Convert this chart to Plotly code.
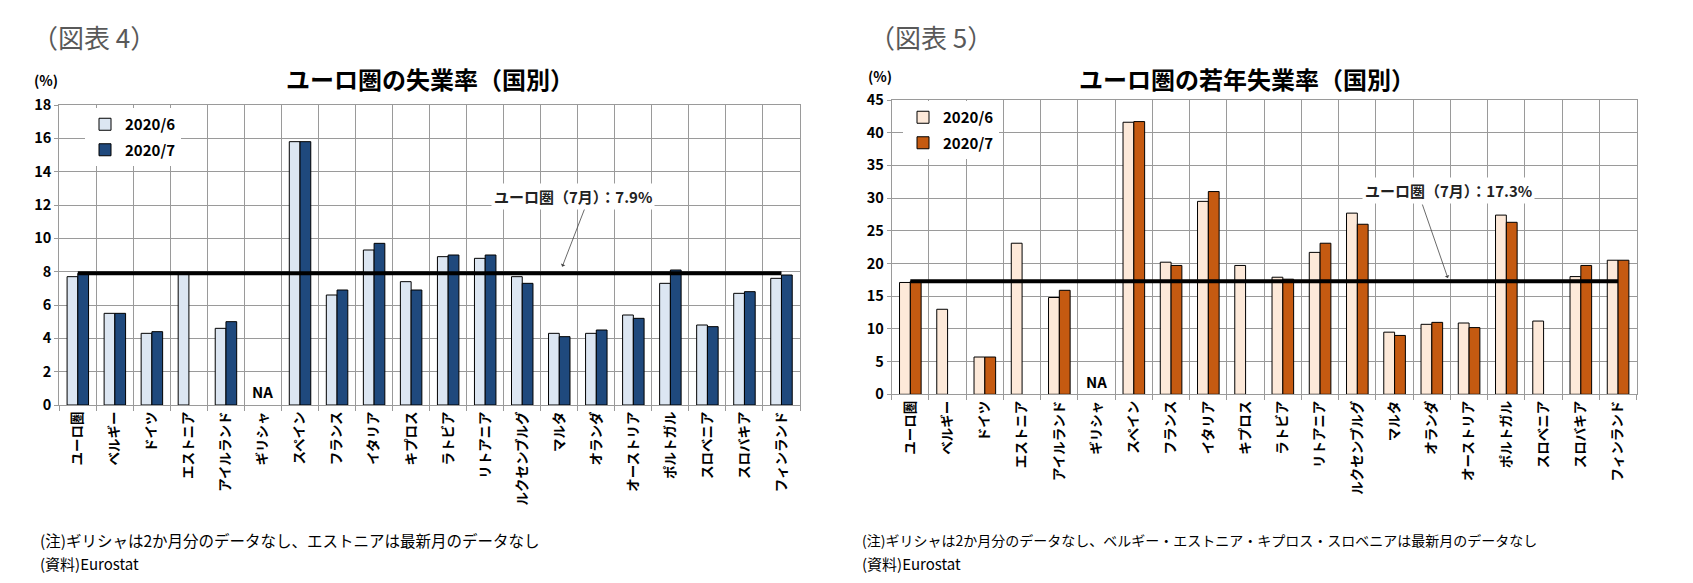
import plotly.graph_objects as go

# ---------------- data ----------------
countries = ["ユーロ圏", "ベルギー", "ドイツ", "エストニア", "アイルランド", "ギリシャ",
             "スペイン", "フランス", "イタリア", "キプロス", "ラトビア", "リトアニア",
             "ルクセンブルグ", "マルタ", "オランダ", "オーストリア", "ポルトガル",
             "スロベニア", "スロバキア", "フィンランド"]
series_names = ["2020/6", "2020/7"]

unemp_jun = [7.7, 5.5, 4.3, 7.9, 4.6, None, 15.8, 6.6, 9.3, 7.4, 8.9, 8.8, 7.7,
             4.3, 4.3, 5.4, 7.3, 4.8, 6.7, 7.6]
unemp_jul = [7.9, 5.5, 4.4, None, 5.0, None, 15.8, 6.9, 9.7, 6.9, 9.0, 9.0, 7.3,
             4.1, 4.5, 5.2, 8.1, 4.7, 6.8, 7.8]
euro_unemp_jul = 7.9

youth_jun = [17.1, 13.0, 5.7, 23.1, 14.8, None, 41.6, 20.2, 29.5, 19.7, 17.9, 21.7,
             27.7, 9.5, 10.7, 10.9, 27.4, 11.2, 18.0, 20.5]
youth_jul = [17.3, None, 5.7, None, 15.9, None, 41.7, 19.7, 31.0, None, 17.6, 23.1,
             26.0, 9.0, 11.0, 10.2, 26.3, None, 19.7, 20.5]
euro_youth_jul = 17.3

# ---------------- layout helpers ----------------
PAGE_W, PAGE_H = 1693, 583
OFF = 8                      # default page body margin
W, H = PAGE_W - 2 * OFF, PAGE_H - 2 * OFF
FONT = "Noto Sans CJK JP"


def px_x(v):
    return (v - OFF) / W


def px_y(v):
    return 1 - (v - OFF) / H


fig = go.Figure()

# Left chart bars
fig.add_trace(go.Bar(x=countries, y=unemp_jun, name=series_names[0],
                     marker=dict(color="#DCE6F2", line=dict(color="#000000", width=1)),
                     xaxis="x", yaxis="y", legend="legend", legendgroup="a1"))
fig.add_trace(go.Bar(x=countries, y=unemp_jul, name=series_names[1],
                     marker=dict(color="#1F497D", line=dict(color="#000000", width=1)),
                     xaxis="x", yaxis="y", legend="legend", legendgroup="a2"))
fig.add_trace(go.Scatter(x=[countries[0], countries[-1]], y=[euro_unemp_jul] * 2,
                         mode="lines", line=dict(color="#000000", width=4),
                         xaxis="x", yaxis="y", showlegend=False))

# Right chart bars
fig.add_trace(go.Bar(x=countries, y=youth_jun, name=series_names[0],
                     marker=dict(color="#FDE9D9", line=dict(color="#000000", width=1)),
                     xaxis="x2", yaxis="y2", legend="legend2", legendgroup="b1"))
fig.add_trace(go.Bar(x=countries, y=youth_jul, name=series_names[1],
                     marker=dict(color="#C55A11", line=dict(color="#000000", width=1)),
                     xaxis="x2", yaxis="y2", legend="legend2", legendgroup="b2"))
fig.add_trace(go.Scatter(x=[countries[0], countries[-1]], y=[euro_youth_jul] * 2,
                         mode="lines", line=dict(color="#000000", width=4),
                         xaxis="x2", yaxis="y2", showlegend=False))

GRID = "#9A9A9A"
xcommon = dict(type="category", tickson="boundaries", showgrid=True, gridcolor=GRID,
               gridwidth=1, ticks="outside", ticklen=5, tickcolor=GRID, tickangle=-90,
               tickfont=dict(family=FONT, size=13.5, color="#000000", weight="bold"),
               showline=True, linecolor=GRID, linewidth=1, mirror=True, fixedrange=True,
               automargin=False)
ycommon = dict(showgrid=True, gridcolor=GRID, gridwidth=1, ticks="outside", ticklen=4,
               tickcolor=GRID, showline=True, linecolor=GRID, linewidth=1, mirror=True,
               tickfont=dict(family=FONT, size=14.5, color="#000000", weight="bold"),
               zeroline=False, fixedrange=True, automargin=False)

fig.update_layout(
    width=W, height=H,
    margin=dict(l=0, r=0, t=0, b=0, autoexpand=False),
    paper_bgcolor="#FFFFFF", plot_bgcolor="#FFFFFF",
    barmode="group", bargap=0.42, bargroupgap=0,
    font=dict(family=FONT, color="#000000"),
    xaxis=dict(domain=[px_x(59.3), px_x(800)], anchor="y", **xcommon),
    yaxis=dict(domain=[px_y(405), px_y(105)], anchor="x", range=[0, 18], dtick=2, **ycommon),
    xaxis2=dict(domain=[px_x(891.7), px_x(1636.7)], anchor="y2", **xcommon),
    yaxis2=dict(domain=[px_y(394.3), px_y(100)], anchor="x2", range=[0, 45], dtick=5, **ycommon),
    legend=dict(x=px_x(85), y=px_y(108), xanchor="left", yanchor="top",
                bgcolor="#FFFFFF", borderwidth=0, tracegroupgap=3,
                font=dict(family=FONT, size=15, color="#000000", weight="bold")),
    legend2=dict(x=px_x(903), y=px_y(101), xanchor="left", yanchor="top",
                 bgcolor="#FFFFFF", borderwidth=0, tracegroupgap=3,
                 font=dict(family=FONT, size=15, color="#000000", weight="bold")),
)

ann = []
# figure labels
ann.append(dict(text="（図表 4）", x=px_x(30), y=px_y(37), xref="paper", yref="paper",
                xanchor="left", yanchor="middle", showarrow=False,
                font=dict(family=FONT, size=26, color="#595959")))
ann.append(dict(text="（図表 5）", x=px_x(867), y=px_y(37), xref="paper", yref="paper",
                xanchor="left", yanchor="middle", showarrow=False,
                font=dict(family=FONT, size=26, color="#595959")))
# titles
ann.append(dict(text="ユーロ圏の失業率（国別）", x=px_x(430), y=px_y(78), xref="paper",
                yref="paper", xanchor="center", yanchor="middle", showarrow=False,
                font=dict(family=FONT, size=24, color="#000000", weight="bold")))
ann.append(dict(text="ユーロ圏の若年失業率（国別）", x=px_x(1247), y=px_y(78), xref="paper",
                yref="paper", xanchor="center", yanchor="middle", showarrow=False,
                font=dict(family=FONT, size=24, color="#000000", weight="bold")))
# (%) labels
for xx, yy in [(46, 80), (880, 76)]:
    ann.append(dict(text="(%)", x=px_x(xx), y=px_y(yy), xref="paper", yref="paper",
                    xanchor="center", yanchor="middle", showarrow=False,
                    font=dict(family=FONT, size=14, color="#000000", weight="bold")))
# NA labels
ann.append(dict(text="NA", x=countries[5], y=0.81, xref="x", yref="y", showarrow=False,
                xanchor="center", yanchor="middle",
                font=dict(family=FONT, size=15, color="#000000", weight="bold")))
ann.append(dict(text="NA", x=countries[5], y=1.96, xref="x2", yref="y2", showarrow=False,
                xanchor="center", yanchor="middle",
                font=dict(family=FONT, size=15, color="#000000", weight="bold")))
# euro-area callouts: arrows
ann.append(dict(text="", x=13.08, y=8.3, xref="x", yref="y", showarrow=True,
                ax=24, ay=-62, arrowhead=1, arrowsize=1, arrowwidth=0.8,
                arrowcolor="#444444"))
ann.append(dict(text="", x=14.43, y=17.78, xref="x2", yref="y2", showarrow=True,
                ax=-26, ay=-75, arrowhead=1, arrowsize=1, arrowwidth=0.8,
                arrowcolor="#444444"))
# euro-area callouts: text
ann.append(dict(text=f"ユーロ圏（7月）：{euro_unemp_jul}%", x=13.38, y=12.5, xref="x", yref="y",
                showarrow=False, xanchor="center", yanchor="middle", bgcolor="#FFFFFF",
                borderpad=2,
                font=dict(family=FONT, size=15, color="#222222", weight="bold")))
ann.append(dict(text=f"ユーロ圏（7月）：{euro_youth_jul}%", x=14.46, y=31.2, xref="x2", yref="y2",
                showarrow=False, xanchor="center", yanchor="middle", bgcolor="#FFFFFF",
                borderpad=2,
                font=dict(family=FONT, size=15, color="#222222", weight="bold")))
# notes
notes = [
    (px_x(38), 15.5, "(注)ギリシャは2か月分のデータなし、エストニアは最新月のデータなし"),
    (px_x(860), 14, "(注)ギリシャは2か月分のデータなし、ベルギー・エストニア・キプロス・スロベニアは最新月のデータなし"),
]
for xx, fs, txt in notes:
    ann.append(dict(text=txt, x=xx, y=px_y(540), xref="paper", yref="paper",
                    xanchor="left", yanchor="middle", showarrow=False,
                    font=dict(family=FONT, size=fs, color="#000000")))
    ann.append(dict(text="(資料)Eurostat", x=xx, y=px_y(563), xref="paper", yref="paper",
                    xanchor="left", yanchor="middle", showarrow=False,
                    font=dict(family=FONT, size=15, color="#000000")))

fig.update_layout(annotations=ann)

fig.write_html("out.html")
